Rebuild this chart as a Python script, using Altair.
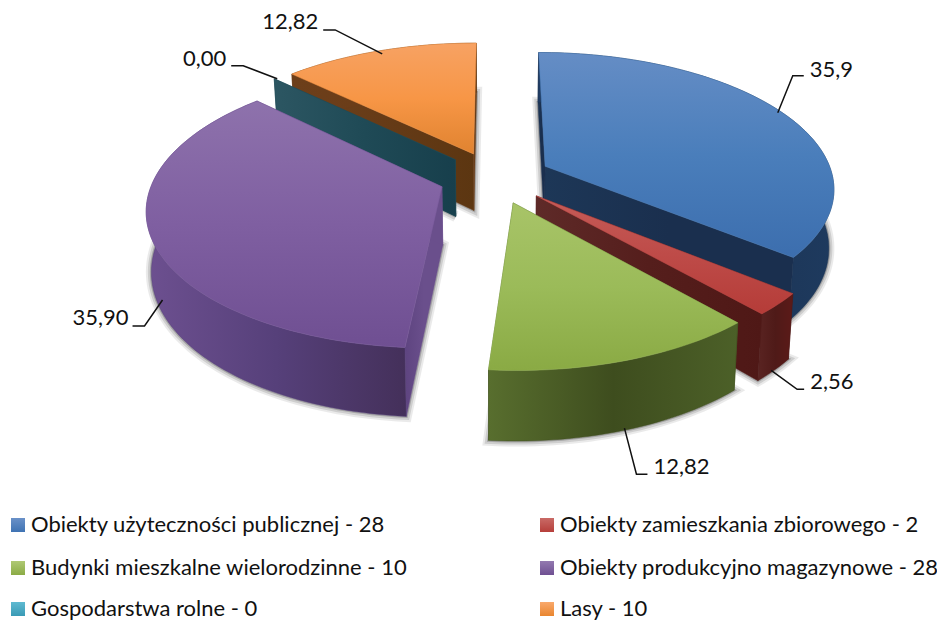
import math
import altair as alt
import pandas as pd

# ---- data ----
names = ["Obiekty użyteczności publicznej - 28", "Obiekty zamieszkania zbiorowego - 2",
         "Budynki mieszkalne wielorodzinne - 10", "Obiekty produkcyjno magazynowe - 28",
         "Gospodarstwa rolne - 0", "Lasy - 10"]
shares = [35.9, 2.56, 12.82, 35.90, 0.0, 12.82]
share_labels = ["35,9", "2,56", "12,82", "35,90", "0,00", "12,82"]

# ---- styling ----
TOP = [["#658dc5", "#4a7ebb", "#3c6eae"], ["#c55c58", "#be4b48", "#b53c38"],
       ["#a8c468", "#9bbb59", "#8aaa44"], ["#8e72ac", "#7f5fa1", "#6f4f92"],
       ["#4bacc6", "#4bacc6", "#4bacc6"], ["#f7a263", "#f79646", "#e08330"]]
WALL = [["#1f3b62", "#1b3252", "#1e3a5e"], ["#5a2422", "#4f1a18", "#5c1a18"],
        ["#586e2e", "#3e4d1e", "#4c6028"], ["#6d5090", "#56407a", "#44305a"],
        ["#2a5560", "#2a5560", "#2a5560"], ["#6d3f1a", "#6a3c18", "#5e3812"]]
FACE = [["#1d3757", "#1a2f4e", "#1a2f4e"], ["#5e2a28", "#551e1c", "#4f1816"],
        ["#566c2d", "#566c2d", "#4a5f28"], ["#5e4480", "#6a4f8c", "#6a4f8c"],
        ["#2c5662", "#1f4a56", "#173f4c"], ["#6f421c", "#663b17", "#5c3611"]]
LEG = [("#6a91c8", "#3f73b3"), ("#c96a66", "#b63f3b"), ("#afc974", "#8bab45"),
       ("#9379b0", "#6f5092"), ("#5fbad1", "#3a9ab5"), ("#f9a96c", "#e9862f")]
DRAW_ORDER = [5, 4, 0, 3, 1, 2]

# projection of the pie plane on the page
CX, CY, A, B, K, EXPL, DEPTH = 495.0, 177.4, 288.0, 134.0, 0.15, 0.195, 58.0

def proj(X, Y, z=0.0):
    s = 1 / (1 - K * Y)
    return CX + A * X * s * (1 - 0.015 * z), CY + B * Y * s + DEPTH * s * z

def rim(t, off, z=0.0, r=1.0):
    return proj(off[0] + r * math.sin(t), off[1] - r * math.cos(t), z)

xs = alt.Scale(domain=[8, 937], nice=False, zero=False)
ys = alt.Scale(domain=[622, 8], nice=False, zero=False)
X = alt.X("x:Q", scale=xs, axis=None)
Y = alt.Y("y:Q", scale=ys, axis=None)

def grad(stops, horizontal=False):
    n = len(stops) - 1
    return {"gradient": "linear", "x1": 0, "y1": 0, "x2": 1 if horizontal else 0, "y2": 0 if horizontal else 1,
            "stops": [{"offset": i / n, "color": c} for i, c in enumerate(stops)]}

def poly(pts, **mark):
    df = pd.DataFrame({"x": [p[0] for p in pts], "y": [p[1] for p in pts], "i": range(len(pts))})
    return alt.Chart(df).mark_line(interpolate="linear-closed", **mark).encode(x=X, y=Y, order=alt.Order("i:Q"))

total = sum(shares)
starts, a0 = [], 0.0
for v in shares:
    starts.append(a0)
    a0 += v / total * 2 * math.pi
starts.append(2 * math.pi)

layers = []
offs = []
for i in range(6):
    mid = starts[i] + (starts[i + 1] - starts[i]) / 2
    offs.append((EXPL * math.sin(mid), -EXPL * math.cos(mid)))

for i in DRAW_ORDER:
    t0, t1, off = starts[i], starts[i + 1], offs[i]
    n = max(2, int((t1 - t0) / math.radians(1.5)))
    ts = [t0 + (t1 - t0) * j / n for j in range(n + 1)]
    apex = proj(off[0], off[1])
    apex_b = proj(off[0], off[1], 1)
    top_arc = [rim(t, off) for t in ts]
    bot_arc = [rim(t, off, 1) for t in ts]
    # soft shadow of the base
    for w, op in [(11, 0.10), (7, 0.16), (3, 0.28)]:
        layers.append(poly([apex_b] + bot_arc, fill="#404040", stroke="#404040", strokeWidth=w, opacity=op))
    # radial faces
    for t in (t0, t1):
        face = [apex, rim(t, off), rim(t, off, 1), apex_b]
        layers.append(poly(face, fill=grad(FACE[i], True), stroke=FACE[i][1], strokeWidth=0.5))
    if t1 > t0:
        layers.append(poly(top_arc + bot_arc[::-1], fill=grad(WALL[i], True), stroke=WALL[i][1], strokeWidth=0.5))
        layers.append(poly([apex] + top_arc, fill=grad(TOP[i]), stroke=TOP[i][1], strokeWidth=0.5))

# leader lines and value labels: (depth fraction, anchor nudge, elbow offset, end offset, text offset, align)
LEAD = [(0.0, (-6, -1), (15, -37), (26, -37), (6, -6), "left"),
        (1.0, (-3, 0), (26, 19), (33, 19), (6, -7), "left"),
        (0.97, (0, 0), (12, 46), (23, 46), (6, -7), "left"),
        (1.0, (6, 0), (-18, 26), (-30, 26), (-4, -8), "right"),
        (0.0, (3, 0), (-34, -13), (-46, -13), (-5, -7), "right"),
        (0.0, (3, 3), (-47, -24), (-59, -24), (-5, -8), "right")]
FONT = "Lato"
LABEL_SIZE = 22
for i in range(6):
    z, nudge, e1, e2, tx, al = LEAD[i]
    mid = starts[i] + (starts[i + 1] - starts[i]) / 2
    ax, ay = rim(mid, offs[i], z)
    ax, ay = ax + nudge[0], ay + nudge[1]
    pts = [(ax, ay), (ax + e1[0], ay + e1[1]), (ax + e2[0], ay + e2[1])]
    df = pd.DataFrame({"x": [p[0] for p in pts], "y": [p[1] for p in pts], "i": range(3)})
    layers.append(alt.Chart(df).mark_line(color="#111111", strokeWidth=1.5).encode(x=X, y=Y, order=alt.Order("i:Q")))
    lab = pd.DataFrame({"x": [pts[2][0] + tx[0]], "y": [pts[2][1] + tx[1]], "t": [share_labels[i]]})
    layers.append(alt.Chart(lab).mark_text(font=FONT, fontSize=LABEL_SIZE, color="#111111", align=al, baseline="middle")
                  .encode(x=X, y=Y, text="t:N"))

# legend, two columns
COLS = [(18, 31), (547, 560)]
ROWS = [525, 568, 609]
for i, nm in enumerate(names):
    c, r = COLS[i % 2], ROWS[i // 2]
    sw = pd.DataFrame({"x": [c[0]], "y": [r]})
    layers.append(alt.Chart(sw).mark_square(size=196, fill=grad(list(LEG[i])), opacity=1, strokeOpacity=0).encode(x=X, y=Y))
    tx = pd.DataFrame({"x": [c[1]], "y": [r], "t": [nm]})
    layers.append(alt.Chart(tx).mark_text(font=FONT, fontSize=LABEL_SIZE, color="#111111", align="left", baseline="middle")
                  .encode(x=X, y=Y, text="t:N"))

chart = alt.layer(*layers).properties(width=929, height=614, padding=0, autosize=alt.AutoSizeParams(type="none"),
                                     background="white").configure_view(stroke=None)
chart.save("out.html", embed_options={"renderer": "svg", "actions": False})
